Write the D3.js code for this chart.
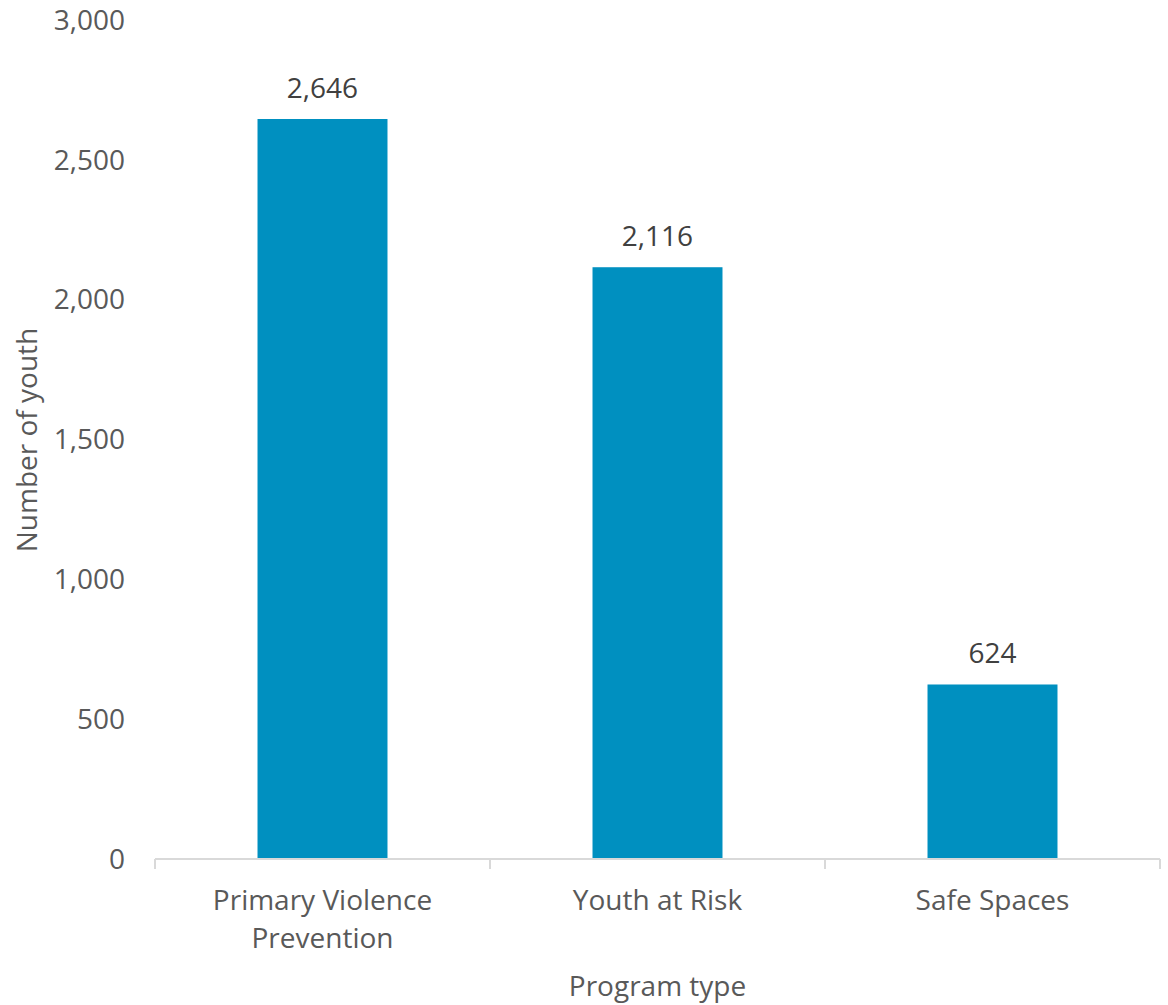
<!DOCTYPE html>
<html><head><meta charset="utf-8">
<script src="https://cdn.jsdelivr.net/npm/d3@7"></script>
<style>body{margin:0;background:#fff}svg{display:block}text{font-family:"Open Sans",sans-serif}</style>
</head><body><svg id="c" width="1168" height="1005"></svg>
<script>
const categories = [["Primary Violence","Prevention"],["Youth at Risk"],["Safe Spaces"]];
const values = [2646, 2116, 624];
const yTicks = [0, 500, 1000, 1500, 2000, 2500, 3000];
const yTitle = "Number of youth";
const xTitle = "Program type";

const svg = d3.select("#c");
const x0 = 155, x1 = 1160, yb = 859, yt = 20;
const x = d3.scaleBand().domain(d3.range(categories.length)).range([x0, x1]).paddingInner(0).paddingOuter(0);
const y = d3.scaleLinear().domain([0, 3000]).range([yb, yt]);
const bw = x.bandwidth() * 0.388;
const fs = 28;

// y tick labels
svg.append("g").selectAll("text").data(yTicks).join("text")
  .attr("x", 125).attr("y", d => y(d)).attr("dy", "0.35em")
  .attr("text-anchor", "end").attr("font-size", fs).attr("fill", "#595959")
  .text(d => d3.format(",")(d));

// bars
svg.append("g").selectAll("rect").data(values).join("rect")
  .attr("x", (d, i) => x(i) + (x.bandwidth() - bw) / 2)
  .attr("width", bw)
  .attr("y", d => y(d)).attr("height", d => yb - y(d))
  .attr("fill", "#0090C0");

// data labels
svg.append("g").selectAll("text").data(values).join("text")
  .attr("x", (d, i) => x(i) + x.bandwidth() / 2)
  .attr("y", d => y(d) - 21)
  .attr("text-anchor", "middle").attr("font-size", fs).attr("fill", "#404040")
  .text(d => d3.format(",")(d));

// x axis line and ticks
const ax = svg.append("g").attr("stroke", "#d9d9d9").attr("stroke-width", 2);
ax.append("line").attr("x1", x0).attr("x2", x1).attr("y1", yb).attr("y2", yb);
const bounds = d3.range(categories.length).map(i => x(i)).concat([x1]);
ax.selectAll("line.t").data(bounds).join("line").attr("class", "t")
  .attr("x1", d => d).attr("x2", d => d).attr("y1", yb).attr("y2", yb + 10);

// x category labels
const cl = svg.append("g").selectAll("text").data(categories).join("text")
  .attr("text-anchor", "middle").attr("font-size", fs).attr("fill", "#595959");
cl.each(function(lines, i) {
  d3.select(this).selectAll("tspan").data(lines).join("tspan")
    .attr("x", x(i) + x.bandwidth() / 2)
    .attr("y", (d, j) => 910 + j * 38)
    .text(d => d);
});

// axis titles
svg.append("text").attr("transform", "translate(37,440) rotate(-90)")
  .attr("text-anchor", "middle").attr("font-size", fs).attr("fill", "#595959").text(yTitle);
svg.append("text").attr("x", (x0 + x1) / 2).attr("y", 996)
  .attr("text-anchor", "middle").attr("font-size", fs).attr("fill", "#595959").text(xTitle);
</script></body></html>
